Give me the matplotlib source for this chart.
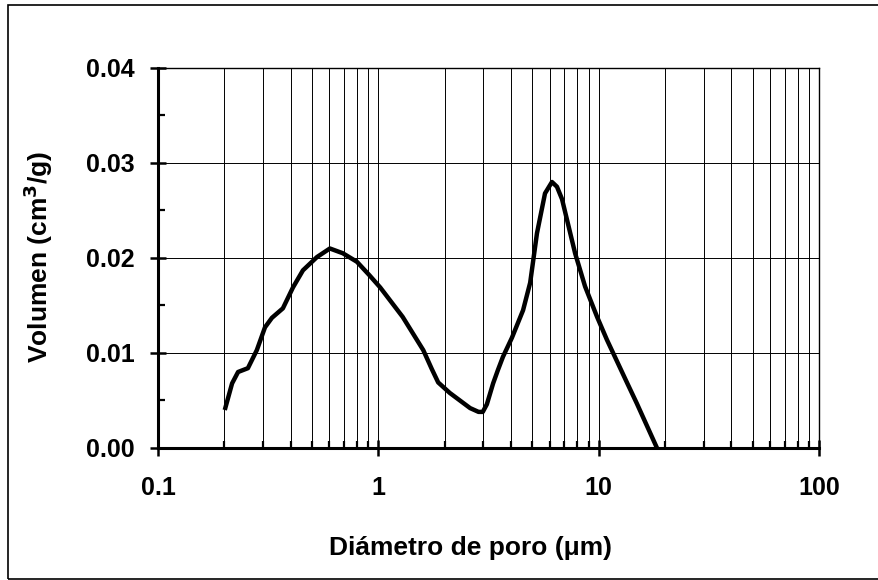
import matplotlib.pyplot as plt
from matplotlib.patches import Rectangle
from matplotlib.ticker import FixedLocator, LogLocator, NullFormatter

plt.rcParams["font.family"] = ["Liberation Sans", "DejaVu Sans"]
plt.rcParams["font.weight"] = "bold"

# pore diameter (um) and volume (cm3/g)
diameter = [0.201, 0.217, 0.231, 0.256, 0.281, 0.306, 0.329, 0.369, 0.41, 0.455,
            0.527, 0.603, 0.69, 0.80, 0.91, 1.02, 1.29, 1.60, 1.75, 1.87, 2.11,
            2.61, 2.85, 2.98, 3.11, 3.32, 3.49, 3.68, 4.04, 4.54, 4.89, 5.25,
            5.71, 6.14, 6.47, 6.82, 7.82, 8.68, 9.84, 10.9, 13.5, 14.9, 18.4]
volume = [0.0040, 0.0068, 0.0080, 0.0084, 0.0103, 0.0127, 0.0137, 0.0147, 0.0169,
          0.0187, 0.0201, 0.0210, 0.0205, 0.0196, 0.0182, 0.0169, 0.0138, 0.0103,
          0.0083, 0.0069, 0.0058, 0.0042, 0.0038, 0.0038, 0.0046, 0.0068, 0.0082,
          0.0096, 0.0116, 0.0145, 0.0174, 0.0226, 0.0268, 0.0280, 0.0275, 0.0262,
          0.0205, 0.0170, 0.0138, 0.0114, 0.0068, 0.0047, 0.0000]

x_ticks = [0.1, 1, 10, 100]
x_labels = ["0.1", "1", "10", "100"]
y_ticks = [0.00, 0.01, 0.02, 0.03, 0.04]
y_labels = ["0.00", "0.01", "0.02", "0.03", "0.04"]

fig = plt.figure(figsize=(8.79, 5.80), dpi=100)
ax = fig.add_axes([0.1797, 0.2276, 0.7520, 0.6552])

ax.plot(diameter, volume, color="black", lw=3.2, solid_joinstyle="round",
        solid_capstyle="butt", zorder=3)

ax.set_xscale("log")
ax.set_xlim(0.1, 100)
ax.set_ylim(0, 0.04)

ax.xaxis.set_major_locator(FixedLocator(x_ticks))
ax.set_xticklabels(x_labels)
ax.xaxis.set_minor_locator(LogLocator(base=10, subs=range(2, 10)))
ax.xaxis.set_minor_formatter(NullFormatter())
ax.set_yticks(y_ticks)
ax.set_yticklabels(y_labels)
ax.yaxis.set_minor_locator(FixedLocator([0.005, 0.015, 0.025, 0.035]))

ax.grid(True, which="major", axis="y", color="black", lw=0.7)
ax.grid(True, which="both", axis="x", color="black", lw=0.7)

ax.tick_params(which="major", direction="inout", length=12, width=1.8,
               labelsize=18)
ax.tick_params(axis="y", which="major", pad=11)
ax.tick_params(axis="x", which="major", pad=14)
ax.tick_params(which="minor", direction="in", length=5, width=1.6)

for side in ["left", "bottom"]:
    ax.spines[side].set_linewidth(2.2)
for side in ["top", "right"]:
    ax.spines[side].set_linewidth(1.0)

ax.set_xlabel("Diámetro de poro (μm)", fontsize=19, fontweight="bold", va="center")
ax.xaxis.set_label_coords(0.4735, -0.263)
ax.set_ylabel("Volumen (cm$^\\mathbf{3}$/g)", fontsize=19, fontweight="bold", va="center")
ax.yaxis.set_label_coords(-0.1815, 0.503)

fig.patches.append(Rectangle((8 / 879, 1 / 580), 1.05, 574 / 580,
                             transform=fig.transFigure, fill=False,
                             edgecolor="black", lw=1.2, clip_on=False))

fig.savefig("out.png", dpi=100)
